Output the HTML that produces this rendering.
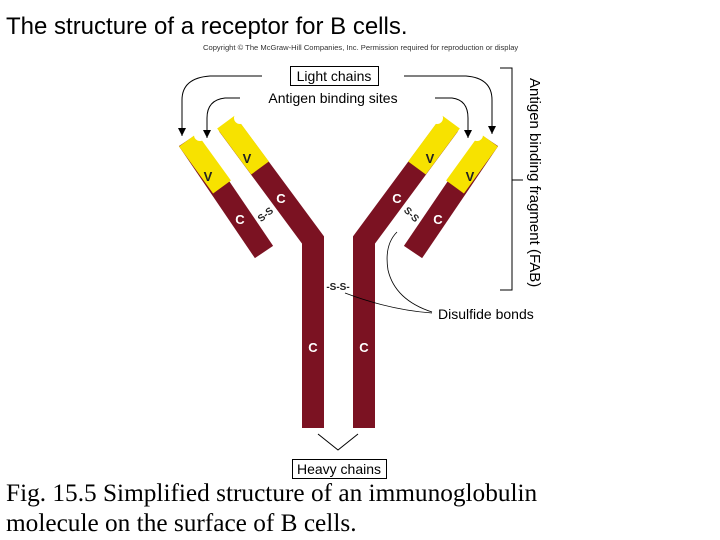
<!DOCTYPE html>
<html><head><meta charset="utf-8"><style>
body{margin:0;width:720px;height:540px;background:#fff;overflow:hidden;position:relative}
svg{position:absolute;left:0;top:0}
</style></head><body>
<svg width="720" height="540" viewBox="0 0 720 540" font-family="Liberation Sans, Arial, sans-serif">
<defs><marker id="ah" markerWidth="8" markerHeight="8" refX="8" refY="4" orient="auto" markerUnits="userSpaceOnUse"><path d="M0,0 L8,4 L0,8 Z" fill="#000"/></marker></defs>
<text x="6" y="34" font-size="24" fill="#000">The structure of a receptor for B cells.</text>
<text x="203" y="50" font-size="7.6" fill="#333">Copyright © The McGraw-Hill Companies, Inc. Permission required for reproduction or display</text>

<polyline points="313,428 313,240 228,125" fill="none" stroke="#7b1222" stroke-width="22" stroke-linejoin="miter"/>
<polyline points="364,428 364,240 449,125" fill="none" stroke="#7b1222" stroke-width="22" stroke-linejoin="miter"/>
<line x1="260" y1="168" x2="226" y2="122" stroke="#f7e200" stroke-width="22"/>
<line x1="417" y1="168" x2="451" y2="122" stroke="#f7e200" stroke-width="22"/>
<line x1="188" y1="140" x2="264" y2="252" stroke="#7b1222" stroke-width="22"/>
<line x1="489" y1="140" x2="413" y2="252" stroke="#7b1222" stroke-width="22"/>
<line x1="188" y1="140" x2="222" y2="187" stroke="#f7e200" stroke-width="22"/>
<line x1="489" y1="140" x2="455" y2="187" stroke="#f7e200" stroke-width="22"/>
<circle cx="200" cy="135" r="6" fill="#fff"/>
<circle cx="240" cy="118" r="6" fill="#fff"/>
<circle cx="477" cy="135" r="6" fill="#fff"/>
<circle cx="437" cy="118" r="6" fill="#fff"/>

<g font-size="13" font-weight="bold" text-anchor="middle">
<text x="208" y="181" fill="#222">V</text>
<text x="247" y="163" fill="#222">V</text>
<text x="470" y="181" fill="#222">V</text>
<text x="430" y="163" fill="#222">V</text>
<text x="240" y="224" fill="#fff">C</text>
<text x="281" y="203" fill="#fff">C</text>
<text x="397" y="203" fill="#fff">C</text>
<text x="438" y="224" fill="#fff">C</text>
<text x="313" y="352" fill="#fff">C</text>
<text x="364" y="352" fill="#fff">C</text>
</g>
<g font-size="10" font-weight="bold" text-anchor="middle" fill="#222">
<text x="265" y="218" transform="rotate(-40 265 214)">S-S</text>
<text x="412" y="218" transform="rotate(45 412 214)">S-S</text>
<text x="338" y="290">-S-S-</text>
</g>

<rect x="290.5" y="66.5" width="88" height="19" fill="#fff" stroke="#000"/>
<text x="334" y="81" font-size="14" text-anchor="middle">Light chains</text>
<text x="333" y="103" font-size="14" text-anchor="middle">Antigen binding sites</text>
<path d="M262,76 L210,76 Q182,78 182,100 L182,136" fill="none" stroke="#000" marker-end="url(#ah)"/>
<path d="M240,98 L225,98 Q207,100 207,118 L207,138" fill="none" stroke="#000" marker-end="url(#ah)"/>
<path d="M404,76 L466,76 Q492,78 492,100 L492,134" fill="none" stroke="#000" marker-end="url(#ah)"/>
<path d="M435,98 L452,98 Q468,100 468,118 L468,138" fill="none" stroke="#000" marker-end="url(#ah)"/>

<path d="M500,68 L512,68 L512,290 L500,290 M512,180 L523,180" fill="none" stroke="#000"/>
<text x="530" y="78" font-size="15" transform="rotate(90 530 78)">Antigen binding fragment (FAB)</text>

<text x="438" y="319" font-size="14">Disulfide bonds</text>
<path d="M432,312 Q395,300 388,270 Q384,245 397,232" fill="none" stroke="#000" stroke-width="0.8"/>
<path d="M432,313 Q390,310 345,293" fill="none" stroke="#000" stroke-width="0.8"/>

<path d="M318,434 L338,450 L358,434" fill="none" stroke="#000"/>
<rect x="292.5" y="459.5" width="94" height="19" fill="#fff" stroke="#000"/>
<text x="339" y="474" font-size="14" text-anchor="middle">Heavy chains</text>

<g font-family="Liberation Serif, Times New Roman, serif" font-size="25.3">
<text x="6" y="501">Fig. 15.5 Simplified structure of an immunoglobulin</text>
<text x="6" y="531">molecule on the surface of B cells.</text>
</g>
</svg>
</body></html>
